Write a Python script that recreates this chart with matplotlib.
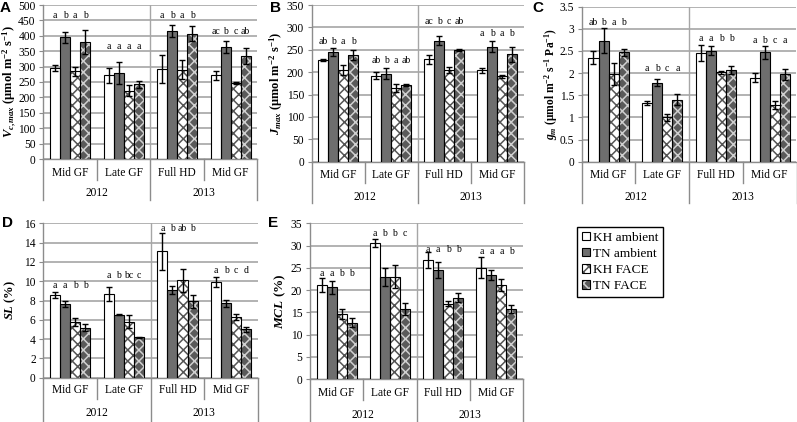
import numpy as np
import matplotlib
matplotlib.use("Agg")
import matplotlib.pyplot as plt
import matplotlib.transforms as mtransforms
from matplotlib.patches import Patch
from matplotlib.legend_handler import HandlerTuple

plt.rcParams["font.family"] = "Liberation Serif"
plt.rcParams["mathtext.fontset"] = "custom"
plt.rcParams["mathtext.rm"] = "Liberation Serif:bold"
plt.rcParams["mathtext.it"] = "Liberation Serif:italic:bold"
plt.rcParams["mathtext.bf"] = "Liberation Serif:bold"
plt.rcParams["hatch.linewidth"] = 1.1

W, H = 797, 422

stages = ["Mid GF", "Late GF", "Full HD", "Mid GF"]
years = ["2012", "2013"]
treatments = ["KH ambient", "TN ambient", "KH FACE", "TN FACE"]

# rows = stage, columns = treatment
vcmax = [[295, 395, 285, 380], [272, 280, 222, 242], [293, 416, 290, 407], [272, 363, 246, 335]]
vcmax_err = [[10, 18, 14, 40], [25, 35, 18, 10], [45, 20, 30, 25], [15, 20, 3, 27]]
vcmax_letters = [["a", "b", "a", "b"], ["a", "a", "a", "a"], ["a", "b", "a", "b"], ["ac", "b", "c", "ab"]]
vcmax_letter_y = [467, 365, 467, 413]

jmax = [[227, 246, 205, 239], [192, 197, 165, 171], [229, 270, 205, 250], [204, 257, 191, 240]]
jmax_err = [[2, 9, 12, 11], [8, 12, 9, 2], [10, 10, 6, 2], [6, 13, 3, 17]]
jmax_letters = [["ab", "b", "a", "b"], ["ab", "b", "a", "ab"], ["ac", "b", "c", "ab"], ["a", "b", "a", "b"]]
jmax_letter_y = [268, 227, 313, 287]

gm = [[2.35, 2.73, 1.98, 2.47], [1.33, 1.78, 1.00, 1.40], [2.45, 2.51, 2.02, 2.07], [1.90, 2.47, 1.29, 1.97]]
gm_err = [[0.15, 0.28, 0.25, 0.08], [0.04, 0.08, 0.07, 0.12], [0.18, 0.10, 0.03, 0.10], [0.10, 0.14, 0.09, 0.13]]
gm_letters = [["ab", "b", "a", "b"], ["a", "b", "c", "a"], ["a", "a", "b", "b"], ["a", "b", "c", "a"]]
gm_letter_y = [3.14, 2.11, 2.78, 2.73]

sl = [[8.6, 7.6, 5.8, 5.2], [8.7, 6.5, 5.8, 4.2], [13.1, 9.1, 10.1, 7.9], [9.9, 7.7, 6.3, 5.0]]
sl_err = [[0.3, 0.3, 0.4, 0.35], [0.7, 0.05, 0.7, 0.05], [1.9, 0.4, 1.2, 0.7], [0.5, 0.35, 0.3, 0.25]]
sl_letters = [["a", "a", "b", "b"], ["a", "b", "bc", "c"], ["a", "b", "ab", "b"], ["a", "b", "c", "d"]]
sl_letter_y = [9.54, 10.57, 15.5, 11.06]

mcl = [[21.1, 20.6, 14.6, 12.7], [30.6, 22.9, 23.0, 15.7], [26.8, 24.4, 16.9, 18.3], [25.0, 23.3, 21.1, 15.7]]
mcl_err = [[1.5, 1.4, 1.1, 1.0], [0.9, 2.0, 2.6, 1.3], [1.8, 1.8, 0.6, 1.0], [2.4, 1.1, 1.3, 0.9]]
mcl_letters = [["a", "a", "b", "b"], ["a", "b", "b", "c"], ["a", "a", "b", "b"], ["a", "a", "a", "b"]]
mcl_letter_y = [23.8, 32.8, 29.0, 28.6]

# bar look per treatment: face, hatch, hatch colour
faces = ["white", "#6e6e6e", "white", "#5a5a5a"]
hatches = [None, None, "xxx", "xxx"]
hatch_cols = ["black", "black", "#555555", "#d0d0d0"]

GRID = "#a6a6a6"
AXC = "#8c8c8c"
BW = 0.187

fig = plt.figure(figsize=(W / 100, H / 100), dpi=100)


def panel(px, mean, err, letters, letter_y, ymax, ystep, ylabel, tag, tag_xy,
          label_dx, label_fs, cat_dy, year_dy, cat_len, year_len):
    left, top, right, bottom = px
    ax_h = bottom - top
    ax = fig.add_axes([left / W, 1 - bottom / H, (right - left) / W, ax_h / H])
    mean = np.array(mean)
    err = np.array(err)
    idx = np.arange(len(stages))
    for j in range(len(treatments)):
        xs = idx + (j - 1.5) * BW
        ax.bar(xs, mean[:, j], BW, color=faces[j], hatch=hatches[j],
               edgecolor=hatch_cols[j], linewidth=0, zorder=2)
        ax.bar(xs, mean[:, j], BW, fill=False, edgecolor="black",
               linewidth=0.8, zorder=3)
        ax.errorbar(xs, mean[:, j], yerr=err[:, j], fmt="none", ecolor="black",
                    elinewidth=1, capsize=2.4, capthick=1, zorder=4)
        for i in idx:
            ax.text(xs[i], letter_y[i], letters[i][j], ha="center", va="center",
                    fontsize=7, zorder=5)

    ax.set_xlim(-0.5, len(stages) - 0.5)
    ax.set_ylim(0, ymax)
    ax.set_yticks(np.arange(0, ymax + ystep / 2, ystep))
    ax.yaxis.set_major_formatter(matplotlib.ticker.FormatStrFormatter("%g"))
    ax.set_xticks([])
    ax.tick_params(axis="y", length=3, width=0.8, color=AXC, pad=2.5, labelsize=8.3)
    ax.grid(axis="y", color=GRID, linewidth=1.2, zorder=0)
    ax.set_axisbelow(True)
    for s in ["top", "right"]:
        ax.spines[s].set_visible(False)
    for s in ["left", "bottom"]:
        ax.spines[s].set_color(AXC)
        ax.spines[s].set_linewidth(1.0)
    ax.axvline(1.5, color=GRID, linewidth=1.0, zorder=0)

    # two-level category axis
    xt = ax.get_xaxis_transform()
    for x, ln in [(-0.5, year_len), (0.5, cat_len), (1.5, year_len), (2.5, cat_len), (3.5, year_len)]:
        ax.plot([x, x], [0, -ln / ax_h], transform=xt, color=AXC, linewidth=1.0, clip_on=False)
    cat_tr = mtransforms.offset_copy(xt, fig=fig, y=-cat_dy, units="dots")
    for i, s in enumerate(stages):
        ax.text(i, 0, s, transform=cat_tr, ha="center", va="center", fontsize=8.3)
    year_tr = mtransforms.offset_copy(xt, fig=fig, y=-year_dy, units="dots")
    for k, yr in enumerate(years):
        ax.text(0.5 + 2 * k, 0, yr, transform=year_tr, ha="center", va="center", fontsize=8.3)

    ax.text(-label_dx / (right - left), 0.5, ylabel, transform=ax.transAxes, rotation=90,
            ha="center", va="center", fontsize=label_fs, fontweight="bold")
    fig.text(tag_xy[0] / W, 1 - tag_xy[1] / H, tag, ha="left", va="center",
             fontsize=11, fontweight="bold", family="Liberation Sans")
    return ax


panel((43.3, 5, 257.5, 159), vcmax, vcmax_err, vcmax_letters, vcmax_letter_y, 500, 50,
      r"$V_{c,max}$ (μmol m$^{-2}$ s$^{-1}$)", "A", (0, 8), 33, 9, 14, 34, 21, 41)
panel((311.7, 5, 523.5, 161.7), jmax, jmax_err, jmax_letters, jmax_letter_y, 350, 50,
      r"$J_{max}$ (μmol m$^{-2}$ s$^{-1}$)", "B", (270, 8), 35, 9, 13.5, 35, 21, 41)
panel((581.7, 6.7, 796.5, 161.7), gm, gm_err, gm_letters, gm_letter_y, 3.5, 0.5,
      r"$g_m$ (μmol m$^{-2}$ s$^{-1}$ Pa$^{-1}$)", "C", (532, 8), 31, 8.3, 13.5, 35, 21, 41)
panel((43.3, 223.3, 258, 377.7), sl, sl_err, sl_letters, sl_letter_y, 16, 2,
      r"$SL$ (%)", "D", (2, 223), 33, 9, 12.5, 35, 21, 45)
panel((310, 223.3, 523, 379), mcl, mcl_err, mcl_letters, mcl_letter_y, 35, 5,
      r"$MCL$ (%)", "E", (268, 223), 30, 9.5, 14, 36, 21, 45)

handles = []
for j in range(len(treatments)):
    base = Patch(facecolor=faces[j], hatch=hatches[j], edgecolor=hatch_cols[j], linewidth=0)
    edge = Patch(facecolor="none", edgecolor="black", linewidth=0.8)
    handles.append((base, edge))
leg = fig.legend(handles, treatments, loc="upper left", bbox_to_anchor=(577 / W, 1 - 227 / H),
                 handler_map={tuple: HandlerTuple(ndivide=1, pad=0)},
                 prop={"family": "Liberation Serif", "size": 9.5},
                 handlelength=0.6, handleheight=0.6, handletextpad=0.25,
                 labelspacing=0.32, borderpad=0.35, borderaxespad=0,
                 fancybox=False, framealpha=1, edgecolor="black")
leg.get_frame().set_linewidth(1.0)

fig.savefig("out.png", dpi=100)
